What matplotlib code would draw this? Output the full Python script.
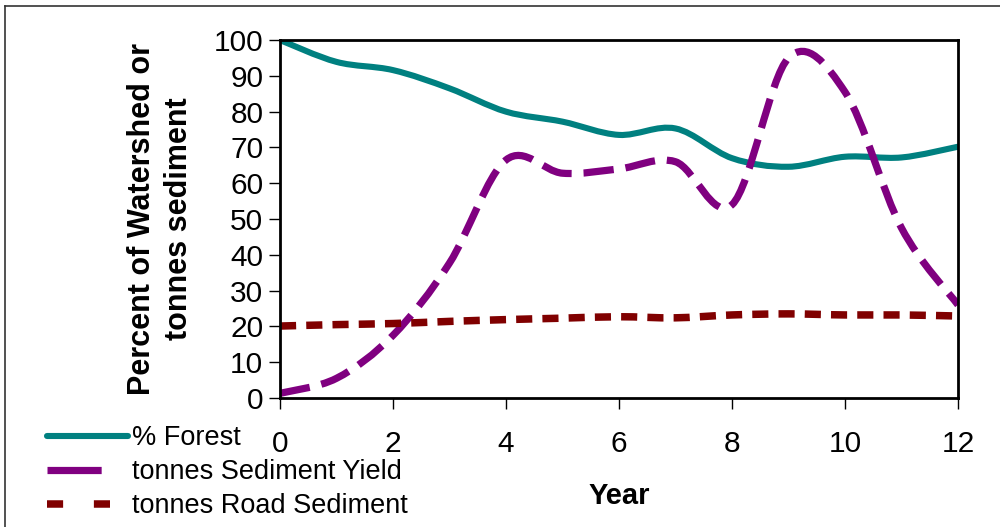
import matplotlib
matplotlib.use("Agg")
import matplotlib.pyplot as plt
from matplotlib.path import Path
from matplotlib.patches import PathPatch
from matplotlib.lines import Line2D

plt.rcParams["font.family"] = ["Liberation Sans", "DejaVu Sans"]

years = [0, 1, 2, 3, 4, 5, 6, 7, 8, 9, 10, 11, 12]
forest_pct = [100, 93.9, 91.6, 86.5, 80, 77.2, 73.5, 75.3, 67, 64.6, 67.4, 67.2, 70.2]
sediment_yield = [1.3, 5.5, 17.5, 37.7, 66.5, 62.8, 64, 66, 54, 95, 85.5, 47.5, 26]
road_sediment = [20.1, 20.5, 20.8, 21.4, 21.9, 22.3, 22.7, 22.4, 23.2, 23.5, 23.2, 23.2, 22.9]

labels = ["% Forest", "tonnes Sediment Yield", "tonnes Road Sediment"]
x_ticks = [0, 2, 4, 6, 8, 10, 12]
y_ticks = [0, 10, 20, 30, 40, 50, 60, 70, 80, 90, 100]


def smooth_path(xs, ys):
    """Excel-style smoothed line as a cubic Bezier path through the points."""
    pts = list(zip(xs, ys))
    n = len(pts)
    verts = [pts[0]]
    codes = [Path.MOVETO]
    for i in range(n - 1):
        p0 = pts[i - 1] if i > 0 else pts[i]
        p1 = pts[i]
        p2 = pts[i + 1]
        p3 = pts[i + 2] if i + 2 < n else pts[i + 1]
        c1 = (p1[0] + (p2[0] - p0[0]) / 6, p1[1] + (p2[1] - p0[1]) / 6)
        c2 = (p2[0] - (p3[0] - p1[0]) / 6, p2[1] - (p3[1] - p1[1]) / 6)
        verts += [c1, c2, p2]
        codes += [Path.CURVE4] * 3
    return Path(verts, codes)


fig = plt.figure(figsize=(10, 5.27), dpi=100)
ax = fig.add_axes([0.28, 0.2448, 0.678, 0.6792])

teal, purple, maroon = "#008080", "#800080", "#800000"
styles = [
    dict(color=teal, lw=4.4, ls="-", capstyle="round"),
    dict(color=purple, lw=5.2, ls=(0, (4.2, 1.65)), capstyle="butt"),
    dict(color=maroon, lw=5.4, ls=(0, (2.15, 1.35)), capstyle="butt"),
]
series = [forest_pct, sediment_yield, road_sediment]

for vals, st in zip(series, styles):
    patch = PathPatch(smooth_path(years, vals), fill=False, edgecolor=st["color"],
                      lw=st["lw"], ls=st["ls"], capstyle=st["capstyle"],
                      joinstyle="round", clip_on=True)
    ax.add_patch(patch)

ax.set_xlim(0, 12)
ax.set_ylim(0, 100)
ax.set_xticks(x_ticks)
ax.set_yticks(y_ticks)
ax.tick_params(axis="both", direction="out", length=8, width=1, labelsize=21.5,
               colors="black")
ax.tick_params(axis="x", pad=15)
ax.tick_params(axis="y", pad=4)
for side in ["left", "bottom", "top", "right"]:
    ax.spines[side].set_linewidth(2)
    ax.spines[side].set_color("black")

ax.set_xlabel("Year", fontsize=21, fontweight="bold", labelpad=17)
ax.set_ylabel("Percent of Watershed or\ntonnes sediment", fontsize=22,
              fontweight="bold", labelpad=14, linespacing=1.3)

# legend proxies (Excel shows a single long dash / two short dashes)
handles = [
    Line2D([], [], color=teal, lw=4.4, solid_capstyle="round"),
    Line2D([], [], color=purple, lw=5.2, ls=(0, (7.5, 20)), dash_capstyle="butt"),
    Line2D([], [], color=maroon, lw=5.4, ls=(0, (2.15, 4.1)), dash_capstyle="butt"),
]
fig.legend(handles, labels, loc="upper left", bbox_to_anchor=(0.047, 0.193),
           frameon=False, fontsize=19.5, handlelength=3.0, handletextpad=0.15,
           labelspacing=0.29, borderpad=0, borderaxespad=0)

# outer chart border (top and left edges visible)
fig.add_artist(Line2D([0.005, 1.0], [1 - 6 / 527, 1 - 6 / 527], transform=fig.transFigure,
                      color="#333333", lw=1.2))
fig.add_artist(Line2D([0.005, 0.005], [1 - 6 / 527, 0], transform=fig.transFigure,
                      color="#333333", lw=1.2))

fig.savefig("out.png", dpi=100)
